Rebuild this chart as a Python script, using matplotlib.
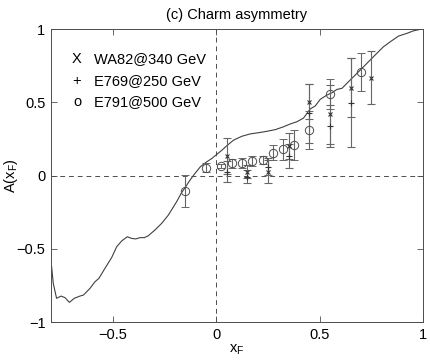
import matplotlib
matplotlib.use("Agg")
import matplotlib.pyplot as plt
import numpy as np

plt.rcParams['font.family'] = ['Liberation Sans', 'DejaVu Sans']
plt.rcParams['mathtext.default'] = 'regular'

# Theory curve
curve_x = [-0.797, -0.789, -0.773, -0.751, -0.732, -0.711, -0.687, -0.660, -0.643, -0.611,
           -0.587, -0.568, -0.539, -0.506, -0.482, -0.458, -0.431, -0.410, -0.390, -0.369,
           -0.348, -0.329, -0.297, -0.264, -0.232, -0.192, -0.168, -0.148, -0.127, -0.103,
           -0.077, -0.050, -0.021, 0.003, 0.028, 0.052, 0.084, 0.124, 0.164, 0.213,
           0.245, 0.285, 0.326, 0.358, 0.390, 0.422, 0.455, 0.479, 0.503, 0.535,
           0.560, 0.584, 0.608, 0.648, 0.689, 0.729, 0.769, 0.809, 0.842, 0.882,
           0.923, 0.955, 0.995]
curve_y = [-0.622, -0.736, -0.838, -0.823, -0.834, -0.866, -0.838, -0.823, -0.816, -0.770,
           -0.725, -0.702, -0.634, -0.559, -0.486, -0.447, -0.418, -0.429, -0.433, -0.424,
           -0.424, -0.411, -0.372, -0.326, -0.270, -0.179, -0.117, -0.076, -0.031, 0.015,
           0.060, 0.090, 0.117, 0.145, 0.174, 0.205, 0.242, 0.268, 0.284, 0.294,
           0.302, 0.313, 0.333, 0.352, 0.367, 0.392, 0.455, 0.475, 0.520, 0.549,
           0.565, 0.588, 0.595, 0.652, 0.709, 0.766, 0.823, 0.879, 0.913, 0.952,
           0.971, 0.988, 1.000]

# WA82 @ 340 GeV (x markers)
wa82_x = [0.05, 0.15, 0.25, 0.35, 0.45, 0.55, 0.65, 0.75]
wa82_y = [0.133, 0.026, 0.026, 0.201, 0.504, 0.418, 0.600, 0.668]
wa82_e = [0.12, 0.045, 0.08, 0.087, 0.12, 0.20, 0.20, 0.18]

# E769 @ 250 GeV (+ markers)
e769_x = [0.05, 0.15, 0.25, 0.35, 0.45, 0.55, 0.65]
e769_y = [0.026, -0.008, 0.060, 0.133, 0.424, 0.338, 0.497]
e769_e = [0.07, 0.045, 0.057, 0.084, 0.20, 0.14, 0.305]

# E791 @ 500 GeV (o markers)
e791_x = [-0.15, -0.05, 0.025, 0.075, 0.125, 0.175, 0.225, 0.275, 0.325, 0.375, 0.45, 0.55, 0.70]
e791_y = [-0.106, 0.053, 0.065, 0.083, 0.083, 0.101, 0.106, 0.156, 0.179, 0.208, 0.31, 0.556, 0.704]
e791_e = [0.11, 0.03, 0.015, 0.03, 0.035, 0.035, 0.03, 0.05, 0.07, 0.105, 0.13, 0.10, 0.13]

legend_labels = ['WA82@340 GeV', 'E769@250 GeV', 'E791@500 GeV']
legend_symbols = ['X', '+', 'o']

xticks = [-0.5, 0, 0.5, 1]
yticks = [-1, -0.5, 0, 0.5, 1]

fig = plt.figure(figsize=(4.31, 3.61), dpi=100)
ax = fig.add_axes([0.1183, 0.108, 0.863, 0.8116])

ax.axhline(0, color='0.3', lw=0.7, ls=(0, (5, 4)))
ax.axvline(0, color='0.3', lw=0.7, ls=(0, (5, 4)))

ax.plot(curve_x, curve_y, color='0.25', lw=0.8)

ebar_col = '0.4'
ax.errorbar(e791_x, e791_y, yerr=e791_e, fmt='o', mfc='none', mec='0.3', ms=6, mew=0.7,
            ecolor=ebar_col, elinewidth=0.8, capsize=3, capthick=0.8)
ax.errorbar(wa82_x, wa82_y, yerr=wa82_e, fmt='x', color='0.2', ms=3.5, mew=0.8,
            ecolor=ebar_col, elinewidth=0.8, capsize=3, capthick=0.8)
ax.errorbar(e769_x, e769_y, yerr=e769_e, fmt='+', color='0.2', ms=5, mew=0.8,
            ecolor=ebar_col, elinewidth=0.8, capsize=3, capthick=0.8)

fs = 10.5
leg_y = [0.793, 0.645, 0.5]
for sym, lab, yy in zip(legend_symbols, legend_labels, leg_y):
    ax.text(-0.674, yy, sym, ha='center', va='center', fontsize=fs)
    ax.text(-0.594, yy, lab, ha='left', va='center', fontsize=fs)

ax.set_xlim(-0.8, 1)
ax.set_ylim(-1, 1)
ax.set_xticks(xticks)
ax.set_yticks(yticks)
ax.set_xticklabels(['\u22120.5', '0', '0.5', '1'])
ax.set_yticklabels(['\u22121', '\u22120.5', '0', '0.5', '1'])
ax.tick_params(direction='in', top=True, right=True, length=4, width=0.6,
               color='0.3', labelsize=fs, pad=4)
for s in ax.spines.values():
    s.set_color('0.3')
    s.set_linewidth(0.7)

ax.set_title('(c) Charm asymmetry', fontsize=fs, pad=7)
ax.set_xlabel('$x_F$', fontsize=fs, labelpad=1)
ax.set_ylabel('$A(x_F)$', fontsize=fs)
ax.yaxis.set_label_coords(-0.082, 0.5)

fig.savefig('out.png', dpi=100)
